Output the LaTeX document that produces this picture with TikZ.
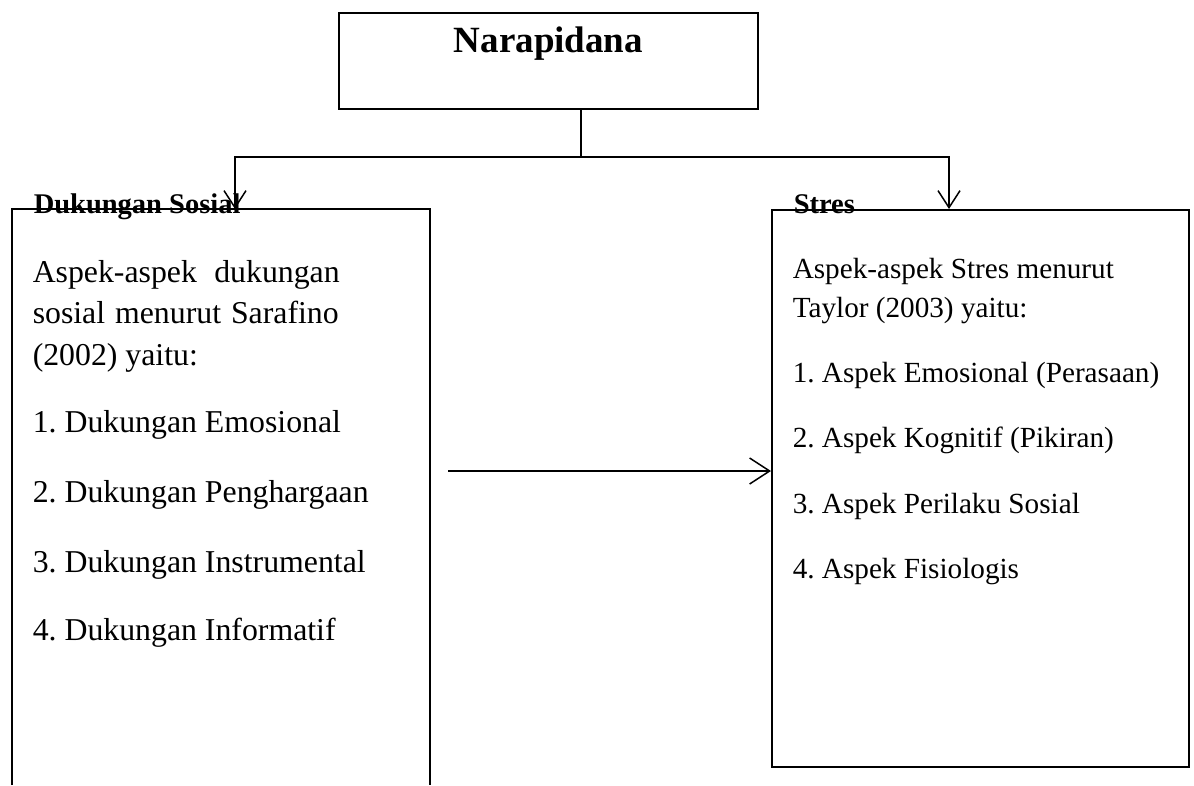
\documentclass[tikz,border=0pt]{standalone}
\usepackage{fontspec}
\setmainfont{Liberation Serif}
\usetikzlibrary{arrows.meta}
\frenchspacing

\begin{document}
\begin{tikzpicture}[x=1pt,y=-1pt,line width=1.5pt,
  barb/.style={-{Straight Barb[length=17pt,width=22pt,line width=1.5pt]}},
  barbh/.style={-{Straight Barb[length=20pt,width=26pt,line width=1.5pt]}},
  judul/.style={font=\bfseries\fontsize{28.5}{34}\selectfont,anchor=base west,inner sep=0},
  kiri/.style={font=\fontsize{31.8}{38}\selectfont,anchor=base west,inner sep=0},
  kanan/.style={font=\fontsize{29.2}{35}\selectfont,anchor=base west,inner sep=0}]
\useasboundingbox (0,0) rectangle (1194,785);
\node[draw,inner sep=0,minimum width=419pt,text height=39pt,text depth=57pt,anchor=base,
  font=\bfseries\fontsize{37}{44}\selectfont] (N) at (548.5,52) {Narapidana};
\coordinate (C) at (581,157);
\coordinate (L) at (235,209);
\coordinate (R) at (949,209);
\draw (C |- N.south) -- (C);
\draw[barb] (C) -| (L);
\draw[barb] (C) -| (R);
\draw (12,785) -- (12,209) -- (430,209) -- (430,785);
\node[draw,inner sep=0,minimum width=417pt,minimum height=557pt,anchor=north west] (S) at (771,209) {};
\coordinate (M) at (448,471);
\draw[barbh] (M) -- (M -| S.west);
\node[judul] (DS) at (33,213) {Dukungan Sosial};
\node[judul] (ST) at (793,213) {Stres};
\node[kiri] (k1) at (32,282) {\makebox[307pt][s]{Aspek-aspek dukungan}};
\node[kiri] (k2) at (32,323) {\makebox[306pt][s]{sosial menurut Sarafino}};
\node[kiri] (k3) at (32,365) {(2002) yaitu:};
\node[kiri] (d1) at (32,432) {1. Dukungan Emosional};
\node[kiri] (d2) at (32,502) {2. Dukungan Penghargaan};
\node[kiri] (d3) at (32,572) {3. Dukungan Instrumental};
\node[kiri] (d4) at (32,640) {4. Dukungan Informatif};
\node[kanan] (s1) at (792,278) {Aspek-aspek Stres menurut};
\node[kanan] (s2) at (792,317) {Taylor (2003) yaitu:};
\node[kanan] (a1) at (792,382) {1. Aspek Emosional (Perasaan)};
\node[kanan] (a2) at (792,447) {2. Aspek Kognitif (Pikiran)};
\node[kanan] (a3) at (792,513) {3. Aspek Perilaku Sosial};
\node[kanan] (a4) at (792,578) {4. Aspek Fisiologis};
\end{tikzpicture}
\end{document}
